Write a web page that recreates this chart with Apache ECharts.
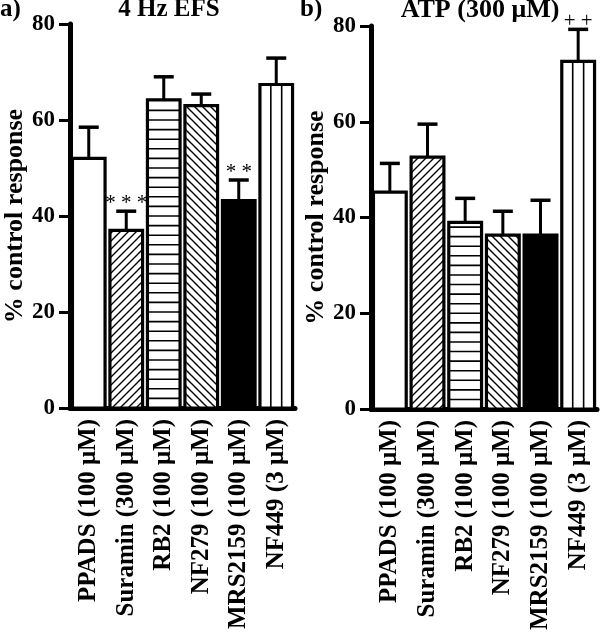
<!DOCTYPE html>
<html>
<head>
<meta charset="utf-8">
<script src="https://cdn.jsdelivr.net/npm/echarts@6/dist/echarts.min.js"></script>
<style>
html,body{margin:0;padding:0;background:#fff;}
#chart{width:600px;height:639px;}
</style>
</head>
<body>
<div id="chart"></div>
<script>
// ---- data ----
const categories = ['PPADS (100 μM)', 'Suramin (300 μM)', 'RB2 (100 μM)', 'NF279 (100 μM)', 'MRS2159 (100 μM)', 'NF449 (3 μM)'];
const efsMean = [52.0, 37.0, 64.2, 63.0, 43.2, 67.4];
const efsSem  = [6.5, 4.0, 4.8, 2.4, 4.3, 5.5];
const efsSig  = ['', '* * *', '', '', '* *', ''];
const atpMean = [45.3, 52.6, 39.0, 36.3, 36.3, 72.6];
const atpSem  = [6.0, 6.9, 5.0, 5.0, 7.3, 6.7];
const atpSig  = ['', '', '', '', '', '+ +'];
const fillKinds = ['white', 'fwd', 'horiz', 'back', 'black', 'vert'];
const yTicks = [0, 20, 40, 60, 80];
const panelLetters = ['a)', 'b)'];
const panelTitles = ['4 Hz EFS', 'ATP (300 μM)'];

const FONT = '"Liberation Serif", "Times New Roman", serif';

function hatch(dir) {
  const c = document.createElement('canvas');
  c.width = 8; c.height = 8;
  const g = c.getContext('2d');
  g.fillStyle = '#fff'; g.fillRect(0, 0, 8, 8);
  g.strokeStyle = '#000'; g.lineWidth = 1.4;
  g.beginPath();
  if (dir === 'fwd') {
    g.moveTo(-2, 10); g.lineTo(10, -2);
    g.moveTo(-2, 2); g.lineTo(2, -2);
    g.moveTo(6, 10); g.lineTo(10, 6);
  } else {
    g.moveTo(-2, -2); g.lineTo(10, 10);
    g.moveTo(-2, 6); g.lineTo(2, 10);
    g.moveTo(6, -2); g.lineTo(10, 2);
  }
  g.stroke();
  return { image: c, repeat: 'repeat' };
}
const patFwd = hatch('fwd');
const patBack = hatch('back');

function makeRender(sigArr) {
  return function (params, api) {
    const i = params.dataIndex;
    const v = api.value(1), sem = api.value(2);
    const kind = fillKinds[i];
    const base = api.coord([i, 0]);
    const top = api.coord([i, v]);
    const et = api.coord([i, v + sem]);
    const band = api.size([1, 0])[0];
    const w = band * 0.87;
    const x0 = base[0] - w / 2;
    const h = base[1] - top[1];
    const children = [];
    let fill = '#fff';
    if (kind === 'black') fill = '#000';
    if (kind === 'fwd') fill = patFwd;
    if (kind === 'back') fill = patBack;
    children.push({ type: 'rect', shape: { x: x0, y: top[1], width: w, height: h }, style: { fill: fill } });
    if (kind === 'horiz') {
      const step = api.size([0, 2])[1];
      for (let y = base[1] - step; y > top[1] + 2; y -= step) {
        children.push({ type: 'line', shape: { x1: x0, y1: y, x2: x0 + w, y2: y }, style: { stroke: '#000', lineWidth: 1.6 } });
      }
    }
    if (kind === 'vert') {
      for (let k = 1; k <= 2; k++) {
        const x = x0 + w * k / 3;
        children.push({ type: 'line', shape: { x1: x, y1: top[1], x2: x, y2: base[1] }, style: { stroke: '#000', lineWidth: 1.6 } });
      }
    }
    children.push({ type: 'line', shape: { x1: base[0], y1: top[1], x2: base[0], y2: et[1] }, style: { stroke: '#000', lineWidth: 3 } });
    children.push({ type: 'line', shape: { x1: base[0] - 10, y1: et[1], x2: base[0] + 10, y2: et[1] }, style: { stroke: '#000', lineWidth: 3.5 } });
    children.push({ type: 'rect', shape: { x: x0, y: top[1], width: w, height: h }, style: { fill: 'none', stroke: '#000', lineWidth: 3.2 } });
    if (sigArr[i]) {
      children.push({ type: 'text', style: { text: sigArr[i], x: base[0], y: et[1] + 3, align: 'center', verticalAlign: 'bottom', font: '21px ' + FONT, fill: '#000' } });
    }
    return { type: 'group', children: children };
  };
}

const grids = [
  { left: 70, top: 24, width: 225, height: 384 },
  { left: 371, top: 26, width: 226, height: 383 }
];

function xAxis(gi) {
  return {
    type: 'category', gridIndex: gi, data: categories,
    axisLine: { lineStyle: { color: '#000', width: 5 } },
    axisTick: { show: false },
    axisLabel: { rotate: 90, margin: 11, color: '#000', fontSize: 25, fontWeight: 'bold', fontFamily: FONT, interval: 0 }
  };
}
function yAxis(gi) {
  return {
    type: 'value', gridIndex: gi, min: yTicks[0], max: yTicks[yTicks.length - 1], interval: yTicks[1] - yTicks[0],
    name: '% control response', nameLocation: 'middle', nameGap: 38,
    nameTextStyle: { color: '#000', fontSize: 26, fontWeight: 'bold', fontFamily: FONT },
    axisLine: { show: true, lineStyle: { color: '#000', width: 5 } },
    axisTick: { show: true, length: 11, lineStyle: { color: '#000', width: 3 } },
    axisLabel: { color: '#000', fontSize: 23, fontWeight: 'bold', fontFamily: FONT, margin: 15 },
    splitLine: { show: false }
  };
}

const chart = echarts.init(document.getElementById('chart'), null, { renderer: 'canvas' });
chart.setOption({
  backgroundColor: '#fff',
  animation: false,
  grid: grids,
  xAxis: [xAxis(0), xAxis(1)],
  yAxis: [yAxis(0), yAxis(1)],
  graphic: [
    { type: 'text', left: 0, top: -3, style: { text: panelLetters[0], font: 'bold 25px ' + FONT, fill: '#000' } },
    { type: 'text', x: 169, y: -3, style: { text: panelTitles[0], align: 'center', verticalAlign: 'top', font: 'bold 25px ' + FONT, fill: '#000' } },
    { type: 'text', x: 300, y: -3, style: { text: panelLetters[1], font: 'bold 25px ' + FONT, fill: '#000' } },
    { type: 'text', x: 480, y: -3, style: { text: panelTitles[1], align: 'center', verticalAlign: 'top', font: 'bold 26px ' + FONT, fill: '#000' } }
  ],
  series: [
    { type: 'custom', xAxisIndex: 0, yAxisIndex: 0, renderItem: makeRender(efsSig),
      data: categories.map((c, i) => [i, efsMean[i], efsSem[i]]) },
    { type: 'custom', xAxisIndex: 1, yAxisIndex: 1, renderItem: makeRender(atpSig),
      data: categories.map((c, i) => [i, atpMean[i], atpSem[i]]) }
  ]
});
</script>
</body>
</html>
